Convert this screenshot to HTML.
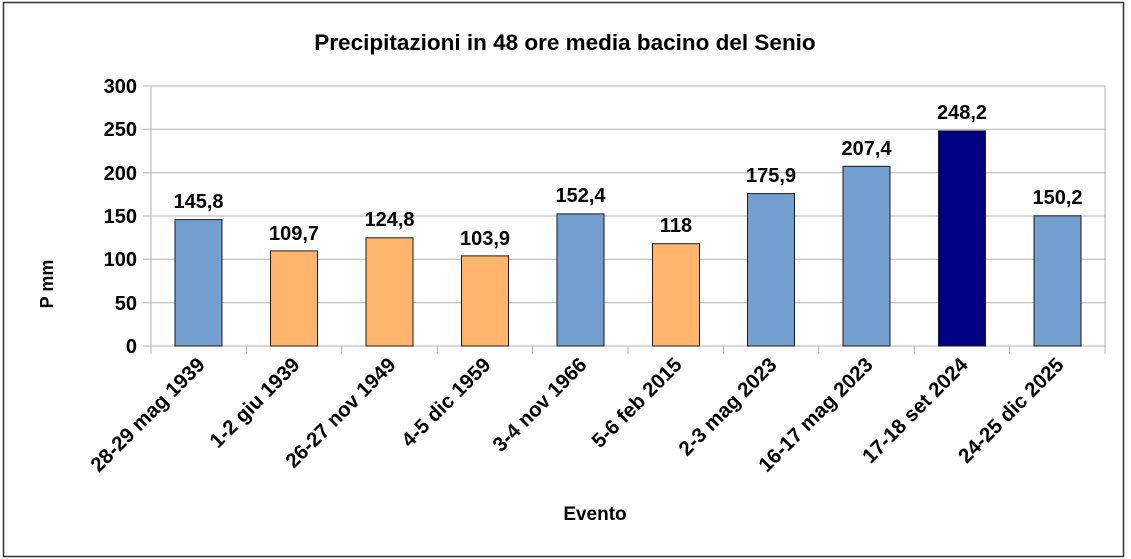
<!DOCTYPE html>
<html><head><meta charset="utf-8"><style>
html,body{margin:0;padding:0;background:#fff;}
svg{display:block;font-family:"Liberation Sans",sans-serif;}
</style></head><body>
<svg width="1131" height="559" viewBox="0 0 1131 559" xmlns="http://www.w3.org/2000/svg">
<rect x="0" y="0" width="1131" height="559" fill="#fff"/>
<rect x="3.5" y="2.5" width="1120" height="554" fill="#fff" stroke="#333" stroke-width="1.5"/>
<text x="565" y="50" text-anchor="middle" font-size="22.5" font-weight="bold">Precipitazioni in 48 ore media bacino del Senio</text>
<g stroke="#b3b3b3" stroke-width="1">
<line x1="143" y1="86" x2="1105" y2="86"/>
<line x1="143" y1="129.3" x2="1105" y2="129.3"/>
<line x1="143" y1="172.7" x2="1105" y2="172.7"/>
<line x1="143" y1="216" x2="1105" y2="216"/>
<line x1="143" y1="259.3" x2="1105" y2="259.3"/>
<line x1="143" y1="302.7" x2="1105" y2="302.7"/>
<line x1="143" y1="346" x2="1105" y2="346"/>
<line x1="151" y1="86" x2="151" y2="346"/>
<line x1="1105" y1="86" x2="1105" y2="354"/>
<line x1="151" y1="346" x2="151" y2="354"/><line x1="246.4" y1="346" x2="246.4" y2="354"/><line x1="341.8" y1="346" x2="341.8" y2="354"/><line x1="437.2" y1="346" x2="437.2" y2="354"/><line x1="532.6" y1="346" x2="532.6" y2="354"/><line x1="628" y1="346" x2="628" y2="354"/><line x1="723.4" y1="346" x2="723.4" y2="354"/><line x1="818.8" y1="346" x2="818.8" y2="354"/><line x1="914.2" y1="346" x2="914.2" y2="354"/><line x1="1009.6" y1="346" x2="1009.6" y2="354"/>
</g>
<g font-size="20" font-weight="bold" text-anchor="end">
<text x="137" y="93">300</text><text x="137" y="136">250</text><text x="137" y="180">200</text><text x="137" y="223">150</text><text x="137" y="266">100</text><text x="137" y="310">50</text><text x="137" y="353">0</text>
</g>
<text transform="translate(53,284) rotate(-90)" text-anchor="middle" font-size="18" font-weight="bold">P mm</text>
<g stroke="#1a1a1a" stroke-width="1">
<rect x="175" y="219.6" width="47" height="126.4" fill="#729fcf"/>
<rect x="270.5" y="250.9" width="47" height="95.1" fill="#ffb66c"/>
<rect x="366" y="237.8" width="47" height="108.2" fill="#ffb66c"/>
<rect x="461.5" y="255.9" width="47" height="90.1" fill="#ffb66c"/>
<rect x="557" y="213.9" width="47" height="132.1" fill="#729fcf"/>
<rect x="652.5" y="243.7" width="47" height="102.3" fill="#ffb66c"/>
<rect x="747.5" y="193.6" width="47" height="152.4" fill="#729fcf"/>
<rect x="843" y="166.3" width="47" height="179.7" fill="#729fcf"/>
<rect x="938.5" y="130.9" width="47" height="215.1" fill="#000080"/>
<rect x="1034" y="215.8" width="47" height="130.2" fill="#729fcf"/>
</g>
<g font-size="20" font-weight="bold" text-anchor="middle">
<text x="198.5" y="208">145,8</text><text x="294" y="240">109,7</text><text x="389.5" y="226">124,8</text><text x="485" y="245">103,9</text><text x="580.5" y="202">152,4</text><text x="676" y="232">118</text><text x="771" y="182">175,9</text><text x="866.5" y="155">207,4</text><text x="962" y="119">248,2</text><text x="1057.5" y="204">150,2</text>
</g>
<g font-size="20.5" font-weight="bold" text-anchor="end">
<text transform="translate(206,366) rotate(-45)">28-29 mag 1939</text>
<text transform="translate(301,366) rotate(-45)">1-2 giu 1939</text>
<text transform="translate(397,366) rotate(-45)">26-27 nov 1949</text>
<text transform="translate(492,366) rotate(-45)">4-5 dic 1959</text>
<text transform="translate(588,366) rotate(-45)">3-4 nov 1966</text>
<text transform="translate(683,366) rotate(-45)">5-6 feb 2015</text>
<text transform="translate(778,366) rotate(-45)">2-3 mag 2023</text>
<text transform="translate(874,366) rotate(-45)">16-17 mag 2023</text>
<text transform="translate(969,366) rotate(-45)">17-18 set 2024</text>
<text transform="translate(1065,366) rotate(-45)">24-25 dic 2025</text>
</g>
<text x="595" y="520" text-anchor="middle" font-size="19" font-weight="bold">Evento</text>
</svg>
</body></html>
